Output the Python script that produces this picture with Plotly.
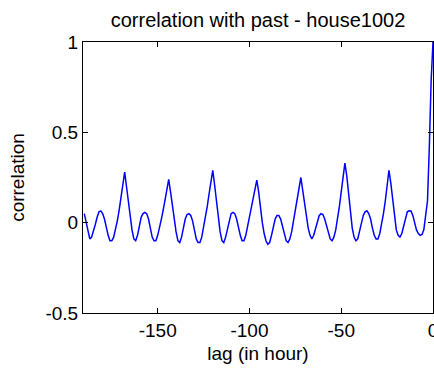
import plotly.graph_objects as go

# lag in hours (x positions are hourly integer lags)
lags = list(range(-190, 1))

# autocorrelation values, lag -190 ... 0
corr = [
    0.05, 0.00, -0.06, -0.09, -0.08, -0.05, -0.01, 0.03, 0.06, 0.065,   # -190..-181
    0.05, 0.02, -0.03, -0.07, -0.10, -0.10, -0.08, -0.04, 0.01, 0.07,   # -180..-171
    0.14, 0.21, 0.28, 0.20, 0.11, 0.03, -0.04, -0.09, -0.10, -0.07,     # -170..-161
    -0.02, 0.03, 0.05, 0.057, 0.05, 0.02, -0.03, -0.08, -0.10, -0.10,   # -160..-151
    -0.07, -0.03, 0.02, 0.07, 0.13, 0.19, 0.24, 0.17, 0.09, 0.02,       # -150..-141
    -0.05, -0.10, -0.11, -0.08, -0.03, 0.02, 0.045, 0.05, 0.04, 0.01,   # -140..-131
    -0.04, -0.09, -0.11, -0.11, -0.08, -0.03, 0.03, 0.09, 0.16, 0.23,   # -130..-121
    0.29, 0.21, 0.11, 0.03, -0.05, -0.10, -0.11, -0.08, -0.03, 0.02,    # -120..-111
    0.05, 0.057, 0.05, 0.02, -0.03, -0.07, -0.10, -0.10, -0.07, -0.02,  # -110..-101
    0.03, 0.08, 0.13, 0.19, 0.235, 0.17, 0.08, 0.00, -0.06, -0.10,      # -100..-91
    -0.12, -0.11, -0.07, -0.02, 0.02, 0.04, 0.04, 0.02, -0.02, -0.06,   # -90..-81
    -0.10, -0.11, -0.09, -0.05, 0.01, 0.07, 0.13, 0.20, 0.25, 0.18,     # -80..-71
    0.10, 0.03, -0.03, -0.07, -0.09, -0.07, -0.03, 0.01, 0.04, 0.05,    # -70..-61
    0.045, 0.02, -0.02, -0.06, -0.09, -0.10, -0.08, -0.04, 0.02, 0.09,  # -60..-51
    0.17, 0.26, 0.33, 0.26, 0.15, 0.05, -0.03, -0.08, -0.10, -0.09,     # -50..-41
    -0.05, 0.00, 0.04, 0.06, 0.066, 0.05, 0.02, -0.03, -0.07, -0.09,    # -40..-31
    -0.09, -0.06, -0.01, 0.05, 0.12, 0.21, 0.29, 0.22, 0.12, 0.03,      # -30..-21
    -0.04, -0.07, -0.08, -0.06, -0.02, 0.03, 0.06, 0.066, 0.065, 0.04,  # -20..-11
    0.00, -0.04, -0.06, -0.07, -0.065, -0.04, 0.04, 0.12, 0.42, 0.79,   # -10..-1
    1.00,                                                                 # 0
]

x_ticks = [-150, -100, -50, 0]
x_tick_text = ["-150", "-100", "-50", "0"]
y_ticks = [-0.5, 0, 0.5, 1]
y_tick_text = ["-0.5", "0", "0.5", "1"]

FONT = "Liberation Sans, Arial, sans-serif"

fig = go.Figure(
    go.Scatter(
        x=lags,
        y=corr,
        mode="lines",
        line=dict(color="#0000FF", width=1.5),
        showlegend=False,
    )
)

axis_common = dict(
    showline=True,
    linecolor="black",
    linewidth=1,
    mirror="ticks",
    ticks="inside",
    ticklen=5,
    tickcolor="black",
    tickwidth=1,
    showgrid=False,
    zeroline=False,
    automargin=False,
    ticklabeloverflow="allow",
    tickfont=dict(family=FONT, size=19, color="black"),
)

fig.update_layout(
    width=434,
    height=372,
    margin=dict(l=83, r=1, t=42, b=59, autoexpand=False),
    paper_bgcolor="white",
    plot_bgcolor="white",
    title=dict(
        text="correlation with past - house1002",
        font=dict(family=FONT, size=20, color="black"),
        x=0.5,
        xref="paper",
        y=1 - 20 / 372,
        yref="container",
        yanchor="middle",
        xanchor="center",
    ),
    xaxis=dict(
        range=[-190.7, 0],
        tickvals=x_ticks,
        ticktext=x_tick_text,
        title=dict(text="lag (in hour)", font=dict(family=FONT, size=19, color="black"), standoff=6),
        **axis_common,
    ),
    yaxis=dict(
        range=[-0.5, 1],
        tickvals=y_ticks,
        ticktext=y_tick_text,
        title=dict(text="correlation", font=dict(family=FONT, size=19, color="black"), standoff=15),
        **axis_common,
    ),
)

fig.write_html(
    "out.html",
    config={"displayModeBar": False},
    post_script="document.body.style.margin='0';document.body.style.overflow='hidden';",
)
